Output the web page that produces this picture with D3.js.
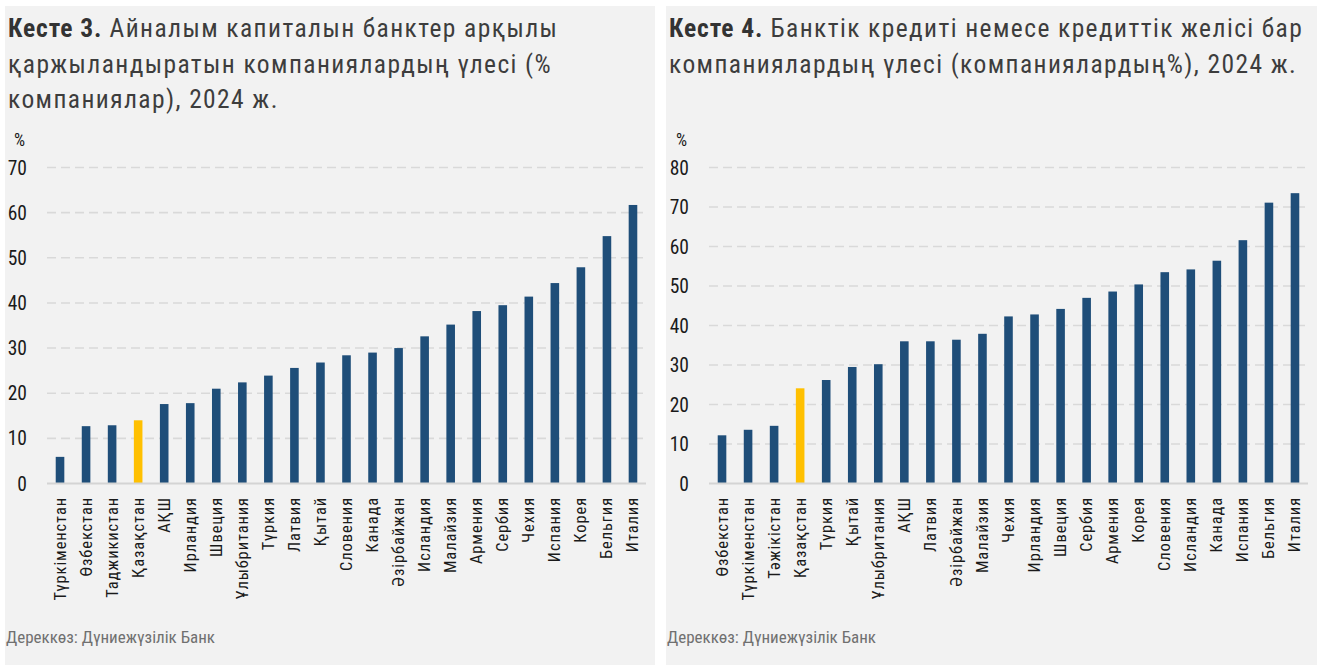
<!DOCTYPE html>
<html>
<meta charset="utf-8">
<style>
    body { margin: 0; background: #fff; }
    text { font-family: "Roboto Condensed", "Liberation Sans Narrow", sans-serif; }
    .grid line { stroke: #d9d9d9; stroke-width: 1.6; stroke-dasharray: 9 5; }
    .base { stroke: #d4d4d4; stroke-width: 2; }
    .title { font-size: 25.5px; fill: #3d3d3d; letter-spacing: 1.4px; }
    .title .lead { font-weight: bold; fill: #333; letter-spacing: 0.9px; }
    .ytick { font-size: 19.5px; fill: #1a1a1a; text-anchor: end; }
    .xlab { font-size: 16.5px; fill: #1a1a1a; text-anchor: end; letter-spacing: 0.9px; }
    .src { font-size: 17px; fill: #707070; }
</style>
<body>
<script src="https://cdn.jsdelivr.net/npm/d3@7"></script>
<svg id="chart" width="1323" height="672"></svg>
<script>
// Chart 3 - share of firms financing working capital through banks
var countries3 = ["Түркіменстан", "Өзбекстан", "Таджикистан", "Қазақстан", "АҚШ", "Ирландия", "Швеция",
    "Ұлыбритания", "Түркия", "Латвия", "Қытай", "Словения", "Канада", "Әзірбайжан", "Исландия",
    "Малайзия", "Армения", "Сербия", "Чехия", "Испания", "Корея", "Бельгия", "Италия"];
var values3 = [5.9, 12.7, 12.9, 14.0, 17.6, 17.8, 21.0, 22.4, 23.9, 25.6, 26.8, 28.4, 29.0, 30.0,
    32.6, 35.2, 38.2, 39.5, 41.4, 44.4, 47.9, 54.8, 61.7];
var ticks3 = [0, 10, 20, 30, 40, 50, 60, 70];
var title3 = ["Айналым капиталын банктер арқылы", "қаржыландыратын компаниялардың үлесі (%", "компаниялар), 2024 ж."];

// Chart 4 - share of firms with a bank loan or credit line
var countries4 = ["Өзбекстан", "Түркіменстан", "Тәжікістан", "Қазақстан", "Түркия", "Қытай", "Ұлыбритания",
    "АҚШ", "Латвия", "Әзірбайжан", "Малайзия", "Чехия", "Ирландия", "Швеция", "Сербия", "Армения",
    "Корея", "Словения", "Исландия", "Канада", "Испания", "Бельгия", "Италия"];
var values4 = [12.2, 13.6, 14.6, 24.1, 26.2, 29.5, 30.2, 36.0, 36.0, 36.4, 37.9, 42.3, 42.8, 44.2,
    47.0, 48.6, 50.4, 53.5, 54.2, 56.4, 61.6, 71.1, 73.5];
var ticks4 = [0, 10, 20, 30, 40, 50, 60, 70, 80];
var title4 = ["Банктік кредиті немесе кредиттік желісі бар", "компаниялардың үлесі (компаниялардың%), 2024 ж."];

var highlight = "Қазақстан";
var source = "Дереккөз: Дүниежүзілік Банк";

var svg = d3.select("#chart");

// Draws one panel: background, title, grid, bars, labels.
var drawPanel = function(opt) {
    var g = svg.append("g").attr("transform", "translate(" + opt.left + ",0)");

    g.append("rect").attr("x", 0).attr("y", 6).attr("width", opt.width).attr("height", 659)
        .attr("fill", "#f2f2f2");

    var t = g.append("text").attr("class", "title");
    opt.title.forEach(function(line, i) {
        var ts = t.append("tspan").attr("x", 3).attr("y", 37 + i * 35.5);
        if (i == 0) {
            ts.append("tspan").attr("class", "lead").text(opt.lead);
            ts.append("tspan").text(" " + line);
        } else {
            ts.text(line);
        }
    });

    var x = d3.scaleBand().domain(opt.cats).range([opt.x0, opt.x0 + 599])
        .paddingInner(0.67).paddingOuter(0.335);
    var y = d3.scaleLinear().domain([0, d3.max(opt.ticks)]).range([483.5, 167.5]);

    g.append("g").attr("class", "grid").selectAll("line")
        .data(opt.ticks.slice(1)).enter().append("line")
        .attr("x1", opt.x0).attr("x2", opt.x0 + 596)
        .attr("y1", function(d) { return y(d); }).attr("y2", function(d) { return y(d); });

    g.selectAll(".ytick").data(opt.ticks).enter().append("text")
        .attr("class", "ytick").attr("x", opt.x0 - 20).attr("y", function(d) { return y(d); })
        .attr("dy", "0.36em").text(function(d) { return d; });

    g.append("text").attr("class", "ytick").attr("x", opt.x0 - 22).attr("y", 146)
        .style("font-size", "17.5px").text("%");

    g.selectAll(".bar").data(opt.vals).enter().append("rect")
        .attr("class", "bar")
        .attr("x", function(d, i) { return x(opt.cats[i]); })
        .attr("width", x.bandwidth())
        .attr("y", function(d) { return y(d); })
        .attr("height", function(d) { return y(0) - y(d); })
        .attr("fill", function(d, i) { return opt.cats[i] == highlight ? "#ffc000" : "#1f4e79"; });

    g.append("line").attr("class", "base")
        .attr("x1", opt.x0).attr("x2", opt.x0 + 599).attr("y1", y(0)).attr("y2", y(0));

    g.selectAll(".xlab").data(opt.cats).enter().append("text")
        .attr("class", "xlab")
        .attr("transform", function(d) {
            return "translate(" + (x(d) + x.bandwidth() / 2 + 5.5) + ",497) rotate(-90)";
        })
        .text(function(d) { return d; });

    g.append("text").attr("class", "src").attr("x", 1).attr("y", 643).text(source);
};

drawPanel({ left: 5, width: 650, x0: 42, cats: countries3, vals: values3, ticks: ticks3,
    lead: "Кесте 3.", title: title3 });
drawPanel({ left: 666, width: 651, x0: 43, cats: countries4, vals: values4, ticks: ticks4,
    lead: "Кесте 4.", title: title4 });
</script>
</body>
</html>
